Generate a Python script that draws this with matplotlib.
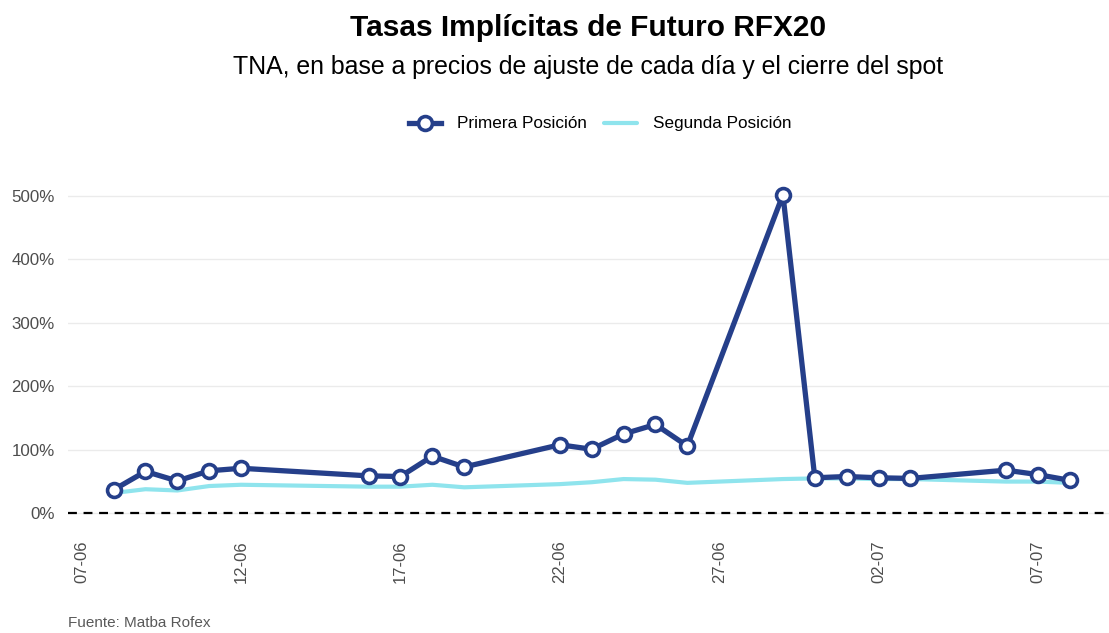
import matplotlib
matplotlib.use("Agg")
import matplotlib.pyplot as plt
import matplotlib.dates as mdates
import matplotlib.ticker as mticker
import pandas as pd

# Fechas de rueda (2020)
fechas = ["2020-06-08", "2020-06-09", "2020-06-10", "2020-06-11", "2020-06-12",
          "2020-06-16", "2020-06-17", "2020-06-18", "2020-06-19",
          "2020-06-22", "2020-06-23", "2020-06-24", "2020-06-25", "2020-06-26",
          "2020-06-29", "2020-06-30", "2020-07-01", "2020-07-02", "2020-07-03",
          "2020-07-06", "2020-07-07", "2020-07-08"]

# Tasas implicitas TNA (%)
primera = [37, 66, 51, 67, 71,
           59, 58, 90, 73,
           108, 101, 125, 140, 106,
           502, 56, 58, 56, 55,
           68, 61, 52]
segunda = [32, 38, 36, 43, 45,
           42, 42, 45, 41,
           46, 49, 54, 53, 48,
           54, 55, 55, 54, 54,
           50, 50, 48]

ticks_x = ["2020-06-07", "2020-06-12", "2020-06-17", "2020-06-22",
           "2020-06-27", "2020-07-02", "2020-07-07"]
ticks_y = [0, 100, 200, 300, 400, 500]

AZUL = "#253f8a"
CELESTE = "#8fe4ed"
GRIS = "#4d4d4d"

plt.rcParams["font.family"] = ["Liberation Sans", "DejaVu Sans"]

df = pd.DataFrame({"fecha": pd.to_datetime(fechas),
                   "primera": primera, "segunda": segunda})

fig = plt.figure(figsize=(11.09, 6.33), dpi=100)
ax = fig.add_axes([68 / 1109, 0.164, 1041 / 1109, 0.5534])

ax.plot(df["fecha"], df["segunda"], color=CELESTE, lw=3.0,
        solid_joinstyle="round", solid_capstyle="round",
        label="Segunda Posición", zorder=2)
ax.plot(df["fecha"], df["primera"], color=AZUL, lw=3.8,
        marker="o", markersize=10, markerfacecolor="white",
        markeredgecolor=AZUL, markeredgewidth=2.6,
        label="Primera Posición", zorder=3)
ax.axhline(0, color="black", lw=1.6, ls=(0, (4, 3)), zorder=1)

x0 = mdates.date2num(pd.Timestamp("2020-06-07"))
ax.set_xlim(x0 - 0.43, x0 + 32.23)
ax.set_ylim(-25, 527)

ax.set_xticks(pd.to_datetime(ticks_x))
ax.xaxis.set_major_formatter(mdates.DateFormatter("%d-%m"))
ax.set_yticks(ticks_y)
ax.yaxis.set_major_formatter(mticker.FuncFormatter(lambda v, p: f"{v:.0f}%"))

ax.tick_params(axis="x", labelrotation=90, length=0, pad=8,
               labelsize=12, labelcolor=GRIS)
ax.tick_params(axis="y", length=0, pad=9.4, labelsize=12.2, labelcolor=GRIS)

ax.grid(axis="y", color="#ebebeb", lw=1)
ax.grid(axis="x", visible=False)
ax.set_axisbelow(True)
for s in ax.spines.values():
    s.set_visible(False)

cx = (68 + 1109) / 2 / 1109
fig.text(cx, 1 - 28 / 633, "Tasas Implícitas de Futuro RFX20",
         ha="center", va="center", fontsize=21.5, fontweight="bold")
fig.text(cx, 1 - 67 / 633,
         "TNA, en base a precios de ajuste de cada día y el cierre del spot",
         ha="center", va="center", fontsize=17.9)

h, l = ax.get_legend_handles_labels()
fig.legend(h[::-1], l[::-1], loc="center", bbox_to_anchor=(600 / 1109, 1 - 124 / 633),
           ncol=2, frameon=False, fontsize=12.3, handlelength=1.9,
           columnspacing=1.0, handletextpad=0.95)

fig.text(68 / 1109, 3 / 633, "Fuente: Matba Rofex",
         ha="left", va="bottom", fontsize=11, color="#595959")

fig.savefig("out.png", dpi=100, facecolor="white")
